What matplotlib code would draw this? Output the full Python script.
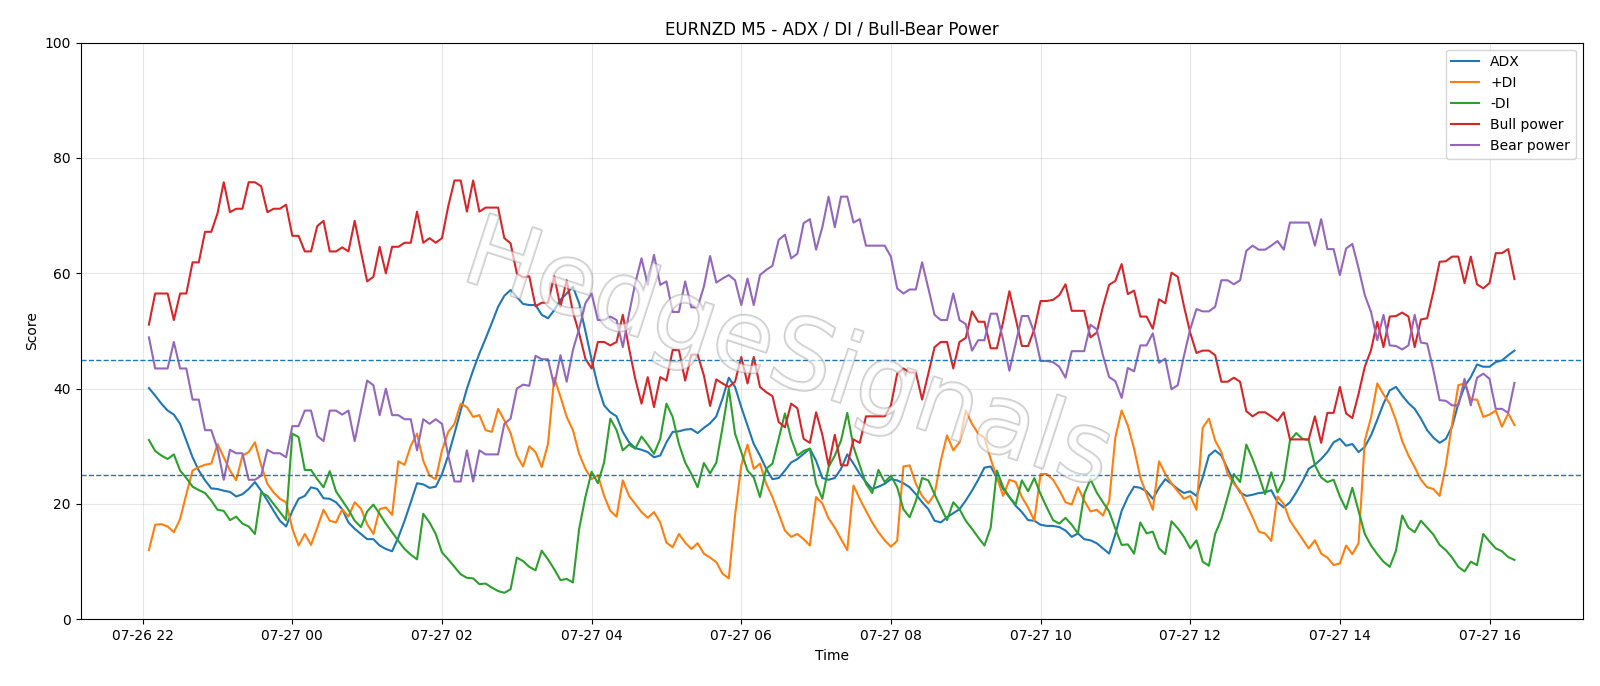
import matplotlib
matplotlib.use("Agg")
import matplotlib.pyplot as plt
import matplotlib.dates as mdates
import matplotlib.patheffects as pe
import pandas as pd

start_time = "2025-07-26 22:05"
n_points = 220

adx = [
    40.1, 38.8, 37.4, 36.2, 35.5, 33.9, 31.0, 28.1, 25.8, 24.1,
    22.7, 22.6, 22.3, 22.1, 21.3, 21.7, 22.6, 23.8, 22.3, 20.6,
    18.8, 17.1, 16.1, 18.8, 20.9, 21.4, 22.9, 22.6, 21.0, 20.9,
    20.3, 19.1, 16.8, 15.7, 14.8, 13.9, 13.9, 12.8, 12.2, 11.8,
    14.2, 17.1, 20.3, 23.6, 23.4, 22.8, 23.0, 25.2, 28.4, 32.2,
    36.2, 40.0, 43.2, 46.1, 48.7, 51.4, 54.2, 56.1, 57.1, 55.9,
    54.7, 54.5, 54.5, 52.8, 52.2, 53.6, 55.4, 56.5, 57.7, 54.8,
    50.0, 45.0, 40.5, 37.1, 35.9, 35.2, 32.5, 30.7, 29.7, 29.4,
    29.0, 28.1, 28.4, 30.7, 32.5, 32.6, 32.9, 33.0, 32.3, 33.2,
    34.0, 35.2, 38.3, 41.9, 40.3, 36.8, 33.6, 30.4, 28.4, 26.1,
    24.3, 24.5, 25.8, 27.2, 27.8, 28.7, 29.6, 27.5, 24.5, 24.2,
    24.5, 26.1, 28.6, 27.0, 25.2, 23.8, 22.6, 23.0, 23.5, 24.3,
    24.1, 23.6, 22.9, 21.7, 20.3, 19.1, 17.1, 16.8, 17.7, 18.4,
    19.1, 20.6, 22.3, 24.2, 26.3, 26.5, 24.5, 22.6, 21.2, 19.7,
    18.6, 17.2, 17.1, 16.4, 16.2, 16.2, 16.0, 15.4, 14.3, 14.9,
    13.9, 13.7, 13.2, 12.3, 11.4, 14.8, 18.8, 21.2, 23.0, 22.8,
    22.2, 20.9, 22.8, 24.3, 23.5, 22.6, 21.9, 22.2, 21.4, 24.6,
    28.4, 29.3, 28.4, 26.1, 23.8, 22.0, 21.4, 21.6, 21.9, 22.0,
    22.4, 20.3, 19.4, 20.3, 22.0, 23.9, 26.1, 26.8, 27.8, 29.0,
    30.7, 31.3, 30.1, 30.4, 29.0, 29.9, 31.9, 34.6, 37.4, 39.7,
    40.3, 38.8, 37.5, 36.5, 34.8, 32.8, 31.5, 30.6, 31.3, 33.4,
    37.4, 40.4, 42.0, 44.2, 43.8, 43.8, 44.6, 44.9, 45.8, 46.6,
]

plus_di = [
    12.0, 16.4, 16.5, 16.1, 15.1, 17.4, 21.7, 25.8, 26.4, 26.8,
    27.0, 30.4, 28.1, 25.8, 24.1, 28.4, 29.0, 30.7, 26.7, 23.5,
    22.0, 20.9, 20.3, 15.7, 12.8, 14.8, 12.9, 15.9, 19.0, 17.1,
    16.8, 19.1, 17.8, 20.3, 19.2, 16.5, 14.8, 19.1, 19.4, 18.1,
    27.4, 26.8, 30.1, 32.2, 27.5, 24.9, 24.3, 29.3, 32.5, 33.9,
    37.4, 36.8, 35.1, 35.4, 32.8, 32.5, 36.5, 34.5, 32.3, 28.4,
    26.5, 30.0, 29.0, 26.4, 30.4, 41.9, 38.6, 35.1, 32.8, 28.7,
    26.1, 24.3, 25.0, 21.4, 18.8, 17.8, 24.1, 21.4, 20.0, 18.6,
    17.6, 18.6, 16.8, 13.3, 12.5, 14.8, 13.3, 12.2, 13.2, 11.4,
    10.7, 9.9, 7.9, 7.1, 18.0, 26.7, 30.3, 26.1, 27.0, 23.5,
    21.2, 18.3, 15.4, 14.3, 14.8, 13.9, 12.8, 21.2, 20.1, 17.5,
    15.9, 13.9, 12.0, 23.2, 20.9, 18.8, 16.8, 15.1, 13.7, 12.6,
    13.6, 26.5, 26.7, 23.5, 21.4, 20.1, 21.7, 27.5, 31.9, 29.3,
    30.7, 36.2, 33.9, 32.2, 31.5, 27.8, 24.6, 21.4, 24.2, 23.8,
    21.2, 19.4, 17.1, 25.2, 25.2, 24.2, 22.4, 20.3, 19.9, 22.9,
    20.6, 18.7, 19.0, 18.0, 20.5, 31.6, 36.2, 33.6, 29.6, 24.6,
    21.7, 19.0, 27.4, 25.2, 23.6, 22.2, 20.9, 21.4, 19.0, 33.2,
    34.8, 31.0, 29.0, 25.2, 23.5, 22.3, 20.0, 17.7, 15.2, 14.9,
    13.6, 21.3, 20.0, 17.1, 15.5, 13.9, 12.3, 13.7, 11.4, 10.7,
    9.4, 9.7, 12.8, 11.3, 13.2, 31.0, 35.0, 40.9, 39.0, 37.4,
    34.5, 30.9, 28.4, 26.4, 24.2, 22.9, 22.6, 21.4, 26.7, 33.9,
    40.6, 40.9, 38.1, 38.1, 35.1, 35.5, 36.2, 33.4, 35.7, 33.7,
]

minus_di = [
    31.1, 29.2, 28.4, 27.8, 28.6, 25.8, 24.5, 23.0, 22.4, 21.9,
    20.6, 19.0, 18.8, 17.2, 17.8, 16.6, 16.1, 14.8, 22.0, 21.4,
    20.0, 18.6, 17.2, 32.2, 31.6, 25.9, 25.9, 24.3, 22.9, 25.7,
    22.2, 20.6, 19.0, 17.1, 16.0, 18.7, 19.9, 18.3, 16.6, 15.1,
    13.6, 12.2, 11.2, 10.4, 18.3, 16.8, 14.8, 11.6, 10.4, 9.1,
    7.8, 7.2, 7.1, 6.1, 6.2, 5.5, 4.9, 4.6, 5.2, 10.7,
    10.1, 9.1, 8.5, 11.9, 10.4, 8.7, 6.8, 7.0, 6.4, 15.7,
    21.2, 25.6, 23.6, 27.2, 34.8, 32.8, 29.3, 30.3, 29.6, 31.7,
    30.3, 28.7, 31.3, 37.4, 35.1, 30.4, 27.2, 25.2, 22.9, 27.1,
    25.3, 27.2, 33.3, 40.0, 32.2, 29.0, 25.8, 24.6, 21.2, 26.1,
    27.0, 31.3, 35.7, 31.3, 28.4, 29.2, 29.6, 23.5, 20.9, 26.4,
    28.4, 31.0, 35.8, 29.9, 26.7, 23.5, 21.9, 25.9, 23.8, 24.9,
    22.9, 19.1, 17.7, 20.5, 24.5, 24.1, 21.7, 19.4, 17.2, 20.3,
    19.1, 17.1, 15.7, 14.2, 12.8, 15.9, 25.8, 22.9, 21.2, 19.9,
    24.1, 22.2, 24.5, 21.7, 19.4, 17.2, 16.6, 17.6, 16.4, 14.9,
    21.7, 24.3, 22.0, 20.3, 18.7, 15.7, 12.9, 13.0, 11.4, 16.8,
    14.9, 15.2, 12.3, 11.3, 17.0, 15.8, 14.3, 12.3, 13.7, 10.0,
    9.3, 14.8, 17.4, 21.2, 25.2, 23.8, 30.3, 27.8, 24.9, 21.7,
    25.5, 22.0, 24.1, 31.0, 32.3, 31.3, 31.1, 26.7, 24.6, 23.8,
    24.2, 21.3, 19.1, 22.8, 18.8, 14.8, 12.8, 11.3, 10.0, 9.1,
    11.9, 18.0, 15.9, 15.1, 17.1, 15.9, 14.7, 12.9, 12.0, 10.7,
    9.1, 8.3, 10.0, 9.4, 14.8, 13.5, 12.3, 11.8, 10.8, 10.3,
]

bull_power = [
    51.1, 56.5, 56.5, 56.5, 51.9, 56.5, 56.5, 61.9, 61.9, 67.2,
    67.2, 70.4, 75.8, 70.6, 71.2, 71.2, 75.8, 75.8, 75.1, 70.6,
    71.2, 71.2, 71.9, 66.5, 66.5, 63.8, 63.8, 68.2, 69.1, 63.8,
    63.8, 64.5, 63.8, 69.1, 63.8, 58.6, 59.4, 64.6, 60.0, 64.6,
    64.6, 65.3, 65.3, 70.7, 65.3, 66.1, 65.3, 66.1, 71.6, 76.1,
    76.1, 70.7, 76.1, 70.7, 71.4, 71.4, 71.4, 66.1, 65.2, 60.0,
    59.3, 59.5, 54.3, 54.9, 54.9, 59.5, 54.2, 58.8, 53.3, 49.6,
    45.2, 43.5, 48.1, 48.1, 47.5, 48.1, 52.8, 47.0, 41.7, 37.4,
    42.0, 36.8, 42.0, 41.4, 46.7, 46.7, 41.4, 45.9, 45.9, 42.3,
    37.0, 41.6, 40.9, 40.3, 41.2, 45.5, 40.9, 45.5, 40.3, 39.4,
    38.7, 34.2, 33.3, 37.4, 36.6, 31.3, 30.6, 35.9, 32.0, 26.7,
    32.0, 26.7, 26.7, 31.2, 30.6, 35.2, 35.2, 35.2, 35.2, 37.1,
    42.6, 43.5, 42.8, 42.8, 38.1, 42.6, 47.2, 48.1, 48.1, 43.5,
    48.1, 48.8, 53.4, 51.6, 51.6, 47.0, 47.0, 51.6, 56.9, 52.2,
    47.4, 47.4, 50.3, 55.2, 55.2, 55.4, 56.2, 58.1, 53.5, 53.5,
    53.5, 48.9, 49.7, 54.2, 58.0, 58.7, 61.6, 56.4, 57.0, 52.5,
    52.5, 50.4, 55.5, 54.8, 60.1, 59.4, 54.3, 49.7, 46.2, 46.6,
    46.6, 45.8, 41.2, 41.2, 41.9, 41.2, 36.1, 35.2, 35.9, 35.9,
    35.2, 34.4, 35.9, 31.2, 31.2, 31.2, 31.2, 35.2, 30.6, 35.8,
    35.8, 40.3, 35.7, 34.9, 39.1, 43.8, 46.7, 51.6, 47.2, 52.5,
    52.6, 53.2, 52.5, 47.2, 52.0, 52.2, 56.8, 62.0, 62.1, 62.9,
    62.9, 58.3, 62.9, 58.1, 57.4, 58.3, 63.5, 63.5, 64.2, 59.0,
]

bear_power = [
    48.9, 43.5, 43.5, 43.5, 48.1, 43.5, 43.5, 38.1, 38.1, 32.8,
    32.8, 29.6, 24.2, 29.4, 28.8, 28.8, 24.2, 24.2, 24.9, 29.4,
    28.8, 28.8, 28.1, 33.5, 33.5, 36.2, 36.2, 31.8, 30.9, 36.2,
    36.2, 35.5, 36.2, 30.9, 36.2, 41.4, 40.6, 35.4, 40.0, 35.4,
    35.4, 34.7, 34.7, 29.3, 34.7, 33.9, 34.7, 33.9, 28.4, 23.9,
    23.9, 29.3, 23.9, 29.3, 28.6, 28.6, 28.6, 33.9, 34.8, 40.0,
    40.7, 40.5, 45.7, 45.1, 45.1, 40.5, 45.8, 41.2, 46.7, 50.4,
    54.8, 56.5, 51.9, 51.9, 52.5, 51.9, 47.2, 53.0, 58.3, 62.6,
    58.0, 63.2, 58.0, 58.6, 53.3, 53.3, 58.6, 54.1, 54.1, 57.7,
    63.0, 58.4, 59.1, 59.7, 58.8, 54.5, 59.1, 54.5, 59.7, 60.6,
    61.3, 65.8, 66.7, 62.6, 63.4, 68.7, 69.4, 64.1, 68.0, 73.3,
    68.0, 73.3, 73.3, 68.8, 69.4, 64.8, 64.8, 64.8, 64.8, 62.9,
    57.4, 56.5, 57.2, 57.2, 61.9, 57.4, 52.8, 51.9, 51.9, 56.5,
    51.9, 51.2, 46.6, 48.4, 48.4, 53.0, 53.0, 48.4, 43.1, 47.8,
    52.6, 52.6, 49.7, 44.8, 44.8, 44.6, 43.8, 41.9, 46.5, 46.5,
    46.5, 51.1, 50.3, 45.8, 42.0, 41.3, 38.4, 43.6, 43.0, 47.5,
    47.5, 49.6, 44.5, 45.2, 39.9, 40.6, 45.7, 50.3, 53.8, 53.4,
    53.4, 54.2, 58.8, 58.8, 58.1, 58.8, 63.9, 64.8, 64.1, 64.1,
    64.8, 65.6, 64.1, 68.8, 68.8, 68.8, 68.8, 64.8, 69.4, 64.2,
    64.2, 59.7, 64.3, 65.1, 60.9, 56.2, 53.3, 48.4, 52.8, 47.5,
    47.4, 46.8, 47.5, 52.8, 48.0, 47.8, 43.2, 38.0, 37.9, 37.1,
    37.1, 41.7, 37.1, 41.9, 42.6, 41.7, 36.5, 36.5, 35.8, 41.0,
]

threshold_levels = [45, 25]
title = "EURNZD M5 - ADX / DI / Bull-Bear Power"
watermark = "HedgeSignals"

times = pd.date_range(start_time, periods=n_points, freq="5min")

fig = plt.figure(figsize=(16, 6.86), dpi=100)
ax = fig.add_axes([0.0504, 0.0972, 0.9388, 0.8406])

ax.plot(times, adx, label="ADX", color="#1f77b4", lw=1.5)
ax.plot(times, plus_di, label="+DI", color="#ff7f0e", lw=1.5)
ax.plot(times, minus_di, label="-DI", color="#2ca02c", lw=1.5)
ax.plot(times, bull_power, label="Bull power", color="#d62728", lw=1.5)
ax.plot(times, bear_power, label="Bear power", color="#9467bd", lw=1.5)

for lvl in threshold_levels:
    ax.axhline(lvl, color="#1f77b4", ls="--", lw=1.0)

ax.set_ylim(0, 100)
ax.set_title(title, fontsize=12)
ax.set_xlabel("Time")
ax.set_ylabel("Score")
ax.grid(True, alpha=0.3)
ax.xaxis.set_major_locator(mdates.HourLocator(byhour=range(0, 24, 2)))
ax.xaxis.set_major_formatter(mdates.DateFormatter("%m-%d %H"))
ax.legend(loc="upper right")

ax.text(0.471, 0.455, watermark, transform=ax.transAxes, fontsize=71,
        color="white", alpha=0.4, rotation=-18, ha="center", va="center",
        rotation_mode="anchor", zorder=5,
        path_effects=[pe.Stroke(linewidth=1.5, foreground="#808080"),
                      pe.Normal()])

fig.savefig("out.png", dpi=100)
